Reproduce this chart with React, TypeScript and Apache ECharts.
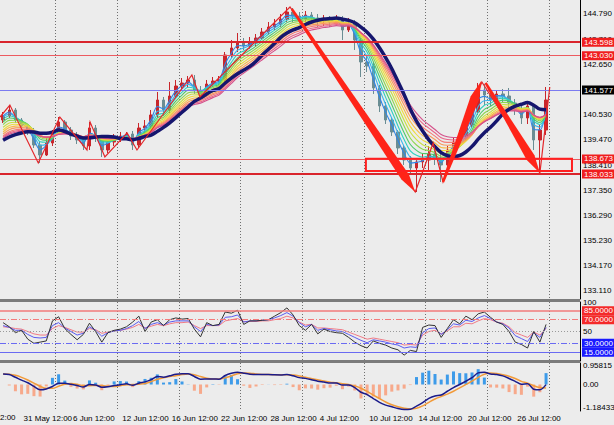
import React, { useEffect, useRef } from 'react';
import * as echarts from 'echarts';

// ---- time axis (12h slots, trading days) ----
const tradingDays = ['30 May','31 May','1 Jun','2 Jun','5 Jun','6 Jun','7 Jun','8 Jun','9 Jun','12 Jun','13 Jun','14 Jun','15 Jun','16 Jun','19 Jun','20 Jun','21 Jun','22 Jun','23 Jun','26 Jun','27 Jun','28 Jun','29 Jun','30 Jun','3 Jul','4 Jul','5 Jul','6 Jul','7 Jul','10 Jul','11 Jul','12 Jul','13 Jul','14 Jul','17 Jul','18 Jul','19 Jul','20 Jul','21 Jul','24 Jul','25 Jul','26 Jul','27 Jul','28 Jul','31 Jul','1 Aug','2 Aug'];
const partialLeftLabel = '2:00';

// ---- price bars ----
const opens = [140.313,140.482,140.736,140.313,140.060,139.849,139.258,138.835,139.342,139.764,
140.229,139.891,139.638,139.469,139.215,139.976,139.553,139.047,139.384,139.553,
139.638,139.722,139.258,139.976,140.060,140.525,141.158,140.736,141.327,141.749,
141.876,142.003,141.580,141.370,141.834,141.960,142.003,143.058,143.354,143.607,
143.438,143.565,143.776,144.030,144.241,144.368,144.579,144.874,144.705,144.579,
144.748,144.621,144.494,144.537,144.452,144.579,144.114,144.368,143.692,142.763,
142.594,141.665,140.905,140.313,139.807,139.131,138.624,138.286,138.540,138.624,
138.877,138.709,138.413,139.047,139.384,139.638,140.102,140.651,141.580,141.370,
141.158,141.412,141.327,141.031,140.736,140.398,140.905,139.469,139.891];
const closes = [140.482,140.736,140.313,140.060,139.849,139.258,138.835,139.342,139.764,140.229,
139.891,139.638,139.469,139.215,139.976,139.553,139.047,139.384,139.553,139.638,
139.722,139.258,139.976,140.060,140.525,141.158,140.736,141.327,141.749,141.876,
142.003,141.580,141.370,141.834,141.960,142.003,143.058,143.354,143.607,143.438,
143.565,143.776,144.030,144.241,144.368,144.579,144.874,144.705,144.579,144.748,
144.621,144.494,144.537,144.452,144.579,144.114,144.368,143.692,142.763,142.594,
141.665,140.905,140.313,139.807,139.131,138.624,138.286,138.540,138.624,138.877,
138.709,138.413,139.047,139.384,139.638,140.102,140.651,141.580,141.370,141.158,
141.412,141.327,141.031,140.736,140.398,140.905,139.469,139.891,141.158];
const highs = [140.651,140.947,140.820,140.398,140.144,139.976,139.427,139.553,139.891,140.440,
140.313,140.018,139.807,139.596,140.229,140.102,139.680,139.596,139.722,139.807,
139.807,139.849,140.187,140.313,140.736,141.496,141.285,141.918,142.003,142.087,
142.171,142.214,141.749,142.003,142.129,142.171,143.185,143.692,143.987,143.776,
143.818,143.945,144.199,144.452,144.579,144.790,145.085,145.043,144.874,144.916,
144.874,144.790,144.748,144.705,144.748,144.705,144.621,144.537,143.776,143.058,
142.763,141.791,141.074,140.398,139.891,139.258,138.793,138.709,138.877,139.215,
139.047,138.962,139.215,139.553,139.891,140.313,140.820,141.876,141.834,141.580,
141.580,141.622,141.665,141.200,140.905,141.074,140.989,140.102,141.707];
const lows = [140.187,140.398,140.187,139.933,139.680,139.131,138.498,138.793,139.215,139.680,
139.722,139.469,139.300,139.047,139.047,139.384,138.751,138.920,139.215,139.384,
139.469,139.047,139.131,139.764,139.933,140.398,140.482,140.609,141.200,141.580,
141.707,141.412,141.200,141.285,141.707,141.791,141.876,142.932,143.185,143.270,
143.312,143.396,143.692,143.903,144.114,144.241,144.452,144.452,144.325,144.452,
144.368,144.241,144.283,144.241,144.325,143.692,144.030,143.270,142.129,142.340,
141.412,140.651,140.144,139.638,138.877,138.413,138.075,137.273,138.286,138.202,
138.413,137.695,138.286,138.835,139.258,139.469,139.976,140.525,140.947,140.905,
140.989,141.074,140.820,140.525,140.144,140.144,139.047,138.075,139.680];

// ---- moving averages ----
const rainbowPeriods = [2, 3, 4, 5, 6, 7, 8, 9, 10, 11, 12, 13];
const rainbowStart = [140.482, 140.355, 140.229, 140.102, 139.976, 139.849, 139.722, 139.638, 139.553, 139.469, 139.427, 139.384];
const navyPeriod = 10;
const navyStart = 139.342;

// ---- levels ----
const priceTicks = [144.79, 143.71, 142.65, 140.53, 139.47, 138.41, 137.35, 136.29, 135.23, 134.17, 133.11];
const redLevelsUpper = [143.598, 143.030];
const blueLevel = 141.577;
const redLevelsLower = [138.673, 138.033];

// ---- drawings (slot index, price) ----
const zigzag = [[-0.5,140.44],[1.1,140.947],[5.7,138.498],[9.2,140.44],[13.6,139.047],[14.1,140.229],[16.5,138.751],[20.1,139.764],[21.7,139.047],[30.6,142.214],[31.9,141.285],[46.5,145.085],[66.8,137.273],[69.7,139.342],[71.3,137.695],[77.6,141.918],[87,138.075],[88.6,141.707]];
const arrows = [[46.8,145.0,66.8,137.273],[71.3,137.695,77.5,141.96],[78.2,141.88,87.0,138.075]];
const zoneBox = [58.8, 138.673, 92.2, 138.16];

// ---- oscillator panel ----
const oscBlack = [65,58,48,52,37,30,32,34,68,75,55,45,36,45,64,50,32,48,52,54,58,66,76,50,66,70,60,70,73,71,72,54,41,65,60,62,83,81,86,62,68,68,69,70,76,82,90,78,60,52,62,46,54,50,48,47,40,32,26,22,34,30,27,22,19,10,18,16,57,61,60,40,55,70,63,76,70,80,83,74,66,62,50,32,28,22,50,32,62];
const oscBlue = [60,57,52,52,45,40,39,40,60,65,56,50,44,47,58,52,42,48,51,52,55,60,67,55,62,65,61,66,68,68,68,58,50,62,60,61,74,75,78,66,68,68,69,70,73,77,82,76,65,58,62,52,55,53,51,50,45,40,35,31,36,34,32,29,27,22,24,23,48,55,56,45,53,63,61,69,67,73,77,72,66,63,56,43,38,33,48,40,57];
const oscPink = [58,57,55,54,50,46,44,44,55,60,57,53,49,49,55,53,47,49,51,52,54,57,62,56,59,62,60,63,65,65,66,60,55,60,60,60,68,70,72,67,67,67,68,68,70,72,76,73,66,61,62,56,56,55,54,53,49,45,41,37,39,37,35,33,31,27,28,27,44,50,52,46,51,58,58,64,63,68,72,70,66,64,58,48,44,40,49,44,55];
const oscLevels = [85, 70, 50, 30, 15];
const oscTicks = [50, 100];

// ---- MACD panel ----
const macdFast = 4, macdSlow = 9, macdSignal = 3, histScale = 3.5;
const macdTicks = [0.95815, 0, -1.18433];

const FONT = 'Liberation Sans';
const N = tradingDays.length * 2;

function ema(src: number[], period: number, start: number) {
  const a = 2 / (period + 1);
  let p = start;
  return src.map((v) => (p = p + a * (v - p)));
}
function sma(src: number[], n: number, start: number) {
  return src.map((_, i) => {
    let s = 0;
    for (let k = i - n + 1; k <= i; k++) s += k < 0 ? start : src[k];
    return s / n;
  });
}

export default function App() {
  const ref = useRef<HTMLDivElement>(null);
  useEffect(() => {
    if (!ref.current) return;
    const chart = echarts.init(ref.current, undefined, { renderer: 'svg' });
    const categories = Array.from({ length: N }, (_, i) => `${tradingDays[Math.floor(i / 2)]} ${i % 2 ? '12:00' : '00:00'}`);
    const rainbow = rainbowPeriods.map((p, k) => ema(closes, p, rainbowStart[k]));
    const navy = sma(closes, navyPeriod, navyStart);
    const fastLine = rainbow[rainbowPeriods.indexOf(macdFast)];
    const slowLine = rainbow[rainbowPeriods.indexOf(macdSlow)];
    const macd = fastLine.map((v, i) => v - slowLine[i]);
    const signal = sma(macd, macdSignal, macd[0]);
    const hist = macd.map((v, i) => (v - signal[i]) * histScale);
    const rainbowColors = ['#2f86e6', '#35b3ee', '#2fd0c0', '#4fca6a', '#8ed64e', '#c8e040', '#eedc3c', '#f8bb48', '#f8995a', '#f47a74', '#ea6488', '#d4508a'];

    const gridSplit = (idx: number) => ({
      type: 'category', gridIndex: idx, data: categories, boundaryGap: true,
      axisLine: { show: false }, axisTick: { show: false },
      axisLabel: idx === 2 ? {
        show: true, interval: (i: number) => i % 8 === 3 && i <= 88, align: 'left', fontSize: 8,
        color: '#000', margin: 3, padding: [0, 0, 0, 2], fontFamily: FONT,
      } : { show: false },
      splitLine: { show: true, interval: (i: number) => i % 10 === 9, lineStyle: { color: '#6f6f6f', type: [1, 2], width: 1 } },
    });

    const boxLabel = (bg: string, text: string) => ({
      show: true, position: 'end', distance: 2, formatter: text, color: '#fff', backgroundColor: bg,
      fontSize: 8, lineHeight: 9, fontFamily: FONT, padding: [0, 2, 0, 2],
    });
    const yBase = (grid: number) => ({
      type: 'value', gridIndex: grid, position: 'right', scale: true,
      axisLine: { show: true, onZero: false, lineStyle: { color: '#000', width: 1 } },
      axisTick: { show: false }, splitLine: { show: false },
    });

    const option: any = {
      animation: false,
      backgroundColor: '#ececec',
      textStyle: { fontFamily: FONT },
      grid: [
        { left: 0, right: 34, top: 0, height: 299, outerBoundsMode: 'none' },
        { left: 0, right: 34, top: 302, height: 59, outerBoundsMode: 'none' },
        { left: 0, right: 34, top: 363, height: 48, outerBoundsMode: 'none' },
      ],
      xAxis: [
        gridSplit(0), gridSplit(1), gridSplit(2),
        { type: 'value', gridIndex: 0, min: -0.5, max: N - 0.5, show: false },
      ],
      yAxis: [
        { ...yBase(0), min: 132.754, max: 145.381,
          axisLabel: { customValues: priceTicks, formatter: (v: number) => v.toFixed(3), fontSize: 8, color: '#000', margin: 3, fontFamily: FONT } },
        { ...yBase(1), min: 0, max: 100,
          axisLabel: { customValues: oscTicks, formatter: (v: number) => String(v), fontSize: 8, color: '#000', margin: 3, fontFamily: FONT } },
        { ...yBase(2), min: -1.336, max: 1.084,
          axisLabel: { customValues: macdTicks, formatter: (v: number) => (v === 0 ? '0.00' : v.toFixed(5)), fontSize: 8, color: '#000', margin: 3, fontFamily: FONT } },
      ],
      graphic: [
        { type: 'rect', shape: { x: 0, y: 299, width: 580, height: 3 }, style: { fill: '#7b7b7b' }, silent: true },
        { type: 'rect', shape: { x: 0, y: 360, width: 580, height: 3 }, style: { fill: '#7b7b7b' }, silent: true },
        { type: 'text', x: 0, y: 413, style: { text: partialLeftLabel, fontSize: 8, fill: '#000', fontFamily: FONT } },
      ],
      series: [
        {
          type: 'candlestick', xAxisIndex: 0, yAxisIndex: 0, z: 2, barWidth: 3,
          data: closes.map((c, i) => [opens[i], c, lows[i], highs[i]]),
          itemStyle: { color: '#c8262b', color0: '#6b8d93', borderColor: '#c8262b', borderColor0: '#6b8d93', borderWidth: 1 },
          markLine: {
            silent: true, symbol: ['none', 'none'],
            data: [
              { yAxis: redLevelsUpper[0], lineStyle: { color: '#d9252c', width: 2, type: 'solid' }, label: boxLabel('#f01e1e', redLevelsUpper[0].toFixed(3)) },
              { yAxis: redLevelsUpper[1], lineStyle: { color: '#ec5a60', width: 1.2, type: 'solid' }, label: boxLabel('#f01e1e', redLevelsUpper[1].toFixed(3)) },
              { yAxis: blueLevel, lineStyle: { color: '#7b7bf0', width: 1, type: 'solid' }, label: boxLabel('#000', blueLevel.toFixed(3)) },
              { yAxis: redLevelsLower[0], lineStyle: { color: '#ec5a60', width: 1.2, type: 'solid' }, label: boxLabel('#f01e1e', redLevelsLower[0].toFixed(3)) },
              { yAxis: redLevelsLower[1], lineStyle: { color: '#d9252c', width: 2, type: 'solid' }, label: boxLabel('#f01e1e', redLevelsLower[1].toFixed(3)) },
            ],
          },
        },
        ...rainbow.map((d, k) => ({
          type: 'line', xAxisIndex: 0, yAxisIndex: 0, data: d, showSymbol: false, smooth: 0.3, z: 3,
          lineStyle: { color: rainbowColors[k], width: 1.1 }, silent: true,
        })),
        {
          type: 'line', xAxisIndex: 0, yAxisIndex: 0, data: navy, showSymbol: false, smooth: 0.3, z: 4,
          lineStyle: { color: '#16166e', width: 3.5 }, silent: true,
        },
        {
          type: 'custom', xAxisIndex: 3, yAxisIndex: 0, z: 5, silent: true,
          data: [[0, 140]],
          renderItem: (_p: any, api: any) => ({
            type: 'polyline',
            shape: { points: zigzag.map((pt) => api.coord(pt)) },
            style: { stroke: '#e3262a', lineWidth: 1.2, fill: 'none' },
          }),
        },
        {
          type: 'custom', xAxisIndex: 3, yAxisIndex: 0, z: 6, silent: true,
          data: arrows.map((a) => [a[0], a[1]]),
          renderItem: (p: any, api: any) => {
            const a = arrows[p.dataIndex];
            const s = api.coord([a[0], a[1]]);
            const e = api.coord([a[2], a[3]]);
            const dx = e[0] - s[0], dy = e[1] - s[1];
            const L = Math.hypot(dx, dy);
            const ux = dx / L, uy = dy / L, nx = -uy, ny = ux;
            const head = 18, w = 4.5, w0 = 1.2;
            const bx = e[0] - ux * head, by = e[1] - uy * head;
            return {
              type: 'polygon',
              shape: { points: [[s[0] + nx * w0, s[1] + ny * w0], [bx + nx * w, by + ny * w], [e[0], e[1]], [bx - nx * w, by - ny * w], [s[0] - nx * w0, s[1] - ny * w0]] },
              style: { fill: '#ff2418' },
            };
          },
        },
        {
          type: 'custom', xAxisIndex: 3, yAxisIndex: 0, z: 6, silent: true,
          data: [[zoneBox[0], zoneBox[1]]],
          renderItem: (_p: any, api: any) => {
            const a = api.coord([zoneBox[0], zoneBox[1]]);
            const b = api.coord([zoneBox[2], zoneBox[3]]);
            return {
              type: 'rect',
              shape: { x: a[0], y: a[1], width: b[0] - a[0], height: b[1] - a[1] },
              style: { fill: 'none', stroke: '#ff2020', lineWidth: 2 },
            };
          },
        },
        // oscillator panel
        { type: 'line', xAxisIndex: 1, yAxisIndex: 1, data: oscPink, showSymbol: false, lineStyle: { color: '#f07a86', width: 1 }, silent: true, z: 3 },
        { type: 'line', xAxisIndex: 1, yAxisIndex: 1, data: oscBlue, showSymbol: false, lineStyle: { color: '#5a5af0', width: 1 }, silent: true, z: 3 },
        {
          type: 'line', xAxisIndex: 1, yAxisIndex: 1, data: oscBlack, showSymbol: false, lineStyle: { color: '#333', width: 1 }, silent: true, z: 4,
          markLine: {
            silent: true, symbol: ['none', 'none'],
            data: [
              { yAxis: oscLevels[0], lineStyle: { color: '#f27b7b', width: 1.5, type: 'solid' }, label: boxLabel('#f42a2a', oscLevels[0].toFixed(4)) },
              { yAxis: oscLevels[1], lineStyle: { color: '#f27b7b', width: 1, type: [6, 2, 1, 2] }, label: boxLabel('#f42a2a', oscLevels[1].toFixed(4)) },
              { yAxis: oscLevels[2], lineStyle: { color: '#9a9a9a', width: 1, type: [1, 2] }, label: { show: false } },
              { yAxis: oscLevels[3], lineStyle: { color: '#6a6af2', width: 1, type: [6, 2, 1, 2] }, label: boxLabel('#1a1aff', oscLevels[3].toFixed(4)) },
              { yAxis: oscLevels[4], lineStyle: { color: '#6a6af2', width: 1.2, type: 'solid' }, label: boxLabel('#1a1aff', oscLevels[4].toFixed(4)) },
            ],
          },
        },
        // MACD panel
        {
          type: 'bar', xAxisIndex: 2, yAxisIndex: 2, data: hist, barWidth: 3, silent: true, z: 2,
          itemStyle: { color: (p: any) => (p.value >= 0 ? '#3d9be9' : '#f7a98b') },
        },
        { type: 'line', xAxisIndex: 2, yAxisIndex: 2, data: signal, showSymbol: false, smooth: 0.3, lineStyle: { color: '#f29b3a', width: 1.5 }, silent: true, z: 3 },
        { type: 'line', xAxisIndex: 2, yAxisIndex: 2, data: macd, showSymbol: false, smooth: 0.3, lineStyle: { color: '#1b1b8a', width: 1.5 }, silent: true, z: 4 },
      ],
    };
    chart.setOption(option);
    return () => chart.dispose();
  }, []);
  return <div ref={ref} style={{ position: 'fixed', left: 0, top: 0, width: 614, height: 425 }} />;
}
